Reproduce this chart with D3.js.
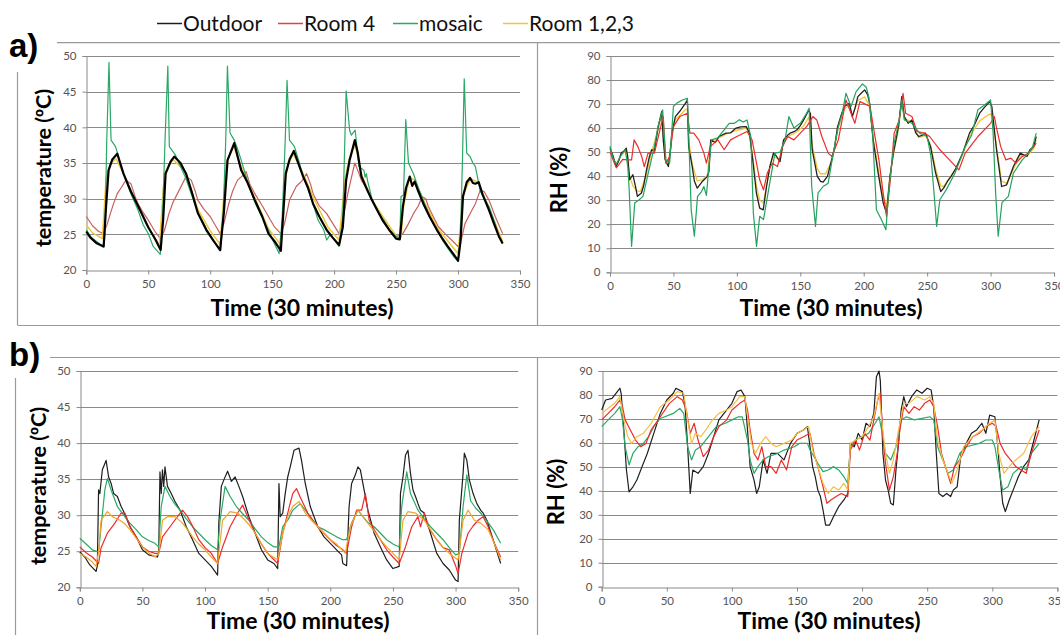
<!DOCTYPE html>
<html><head><meta charset="utf-8">
<script src="https://cdn.jsdelivr.net/npm/d3@7"></script>
<style>
html,body{margin:0;padding:0;background:#fff;}
svg{display:block;}
</style></head>
<body>
<svg id="c" width="1060" height="635"></svg>
<script>
// ---------- DATA (time in 30-min steps, value) ----------
const seriesNames = ["Outdoor", "Room 4", "mosaic", "Room 1,2,3"];
const xTicks = [0, 50, 100, 150, 200, 250, 300, 350];
const tempTicks = [20, 25, 30, 35, 40, 45, 50];
const rhTicks = [0, 10, 20, 30, 40, 50, 60, 70, 80, 90];

// a) temperature
const aTempOutdoor = [[0,25.4],[3,24.6],[8,23.8],[14,23.3],[16,29],[18,34],[21,35.5],[25,36.3],[30,33.5],[36,31],[42,28.9],[50,26],[56,24.2],[60,22.8],[62,27],[64,33.5],[68,35.2],[71,35.9],[76,35],[80.5,33.5],[85,31],[90,28],[97,25.6],[103,24],[108,22.8],[111,28],[114,35.4],[119.4,37.8],[122,36],[125,34],[130,32.3],[136,29.8],[142,27.5],[147,25.1],[152,24],[157,22.7],[159,28],[161,33.5],[164,35.5],[167.5,36.7],[171,35],[175,33.1],[179,31.5],[183,29.3],[188,27.5],[194,25.6],[199,24.5],[204,23.5],[207,26],[209.7,32.6],[212.5,35.4],[216.7,38.2],[219,36.5],[222,33.1],[226,31.5],[230.5,29.8],[235,28.3],[239,27],[245,25.5],[250,24.4],[253,24.3],[255.5,28.9],[258,31.5],[261,33.1],[263,31.8],[265,32.4],[268,31],[272,29.3],[277,27.5],[283,25.6],[287,24.5],[291.7,23.3],[296,22.3],[300,21.3],[302,24],[304,30.3],[307,32.3],[309.7,32.9],[312,32.2],[314,32.1],[316.7,32.3],[320,30.5],[325,28.4],[329,26.5],[333,24.7],[336,23.7]];
const aTempRoom4 = [[0,27.5],[5,26.2],[10,25.4],[14,25.1],[17,26.5],[19.4,27.9],[22,29.3],[25,30.7],[28,31.5],[32,32.6],[36,32.1],[39,30.5],[41.7,29.3],[45,28.3],[50,27],[55,25.5],[59.7,24.4],[63,25.5],[66.7,27.9],[70,29.5],[75,31.2],[80.5,33.1],[84.7,32.6],[88,31],[90,29.8],[95,28.5],[100,27.5],[105,26],[108,25.1],[111,26.5],[115,29.3],[118,31],[122,32.6],[126,33.2],[129,33.8],[132,32],[136,30.7],[142,29],[147,27.5],[152,26],[157,25.1],[160,26.5],[164,29.8],[169.4,31.7],[174,32.5],[177.8,33.5],[181,32],[183,30.7],[188,29],[194,27.9],[199,26.5],[204,25.1],[207,27],[211,30.7],[214,33],[216.7,35],[219,34],[222,32.6],[226,31.5],[230.5,29.8],[235,28.3],[240,27],[245,25.5],[250,24.7],[255.5,25.1],[260,26.5],[264,27.9],[268,29],[271,30.3],[274,30],[276,28.9],[280,27.5],[284,26.1],[290,25],[296,24],[300,23.3],[303,24.5],[305.6,26.5],[310,28],[314,29.3],[318,31.2],[321,31],[325,29.8],[330,27.5],[336,25.1]];
const aTempMosaic = [[0,25.6],[4,24.6],[9,23.9],[14,23.2],[15,24.8],[16.5,38],[18.3,49.1],[20,38.2],[23.6,37.3],[26,35.9],[30,33.5],[36,30.7],[41.7,28.4],[46,26.3],[50,25.1],[54,23.3],[59.7,22.2],[61.5,27],[63.5,38],[65.8,48.6],[67,37.3],[72,36.1],[76,34.5],[80,33],[85,30.5],[90,28],[97,25.4],[103,24],[108.3,22.7],[110.5,28],[112.5,38],[113.9,48.6],[116,39.2],[119.4,38.2],[122,37],[125,35.4],[130,32.5],[136,29.5],[142,27.3],[147,25.6],[151,24],[155.6,22.3],[158,27],[160.5,38],[162,46.6],[164,38.2],[168,37.3],[172,35],[175,33.1],[179,31.3],[183,29.3],[187,27],[191.7,25.6],[194,24.2],[197,25],[200,24.3],[204,23.3],[207,27.5],[209.7,45.1],[212.5,39.6],[213.9,38.9],[217,39.6],[220,34.5],[224,34],[225,33],[226,33.5],[227,32.5],[230.5,30],[235,28.3],[240,27],[245,25.5],[250,24.7],[253,24.5],[254,30.3],[256,30.5],[257.8,41.1],[260,35],[264,33.5],[268,31.5],[272,29.8],[277,27.5],[283,25.6],[288,24],[292,23],[296,22],[300,21.2],[302,25],[303.5,35],[305,46.8],[307,36.4],[309.7,35.9],[312,35],[314,34.5],[318,31],[325,28.9],[330,26.5],[333,24.7],[336,23.7]];
const aTempRoom123 = [[0,26.3],[5,25.2],[10,24.7],[13,24.4],[16,33],[20,35],[24,35.6],[30,33.5],[40,29.5],[50,26],[59,23.5],[63,33.5],[70,35.5],[80,33.8],[90,28.5],[100,25.5],[108,23.6],[113,35],[119,37.3],[125,34.5],[135,30.5],[147,25.8],[157,23.5],[161,34],[167,36.3],[175,33.5],[185,29.5],[195,26],[204,24.2],[209,33],[212,35.5],[217,37.6],[222,33.5],[230,30],[240,27.3],[250,24.8],[254,24.6],[256,29],[261,33],[265,32.6],[272,29.8],[283,26],[292,24],[300,22.3],[304,30.5],[310,32.8],[316,32.3],[325,28.7],[336,24]];

// a) relative humidity
const aRhOutdoor = [[0,51.6],[2,49],[4.8,44],[7,46.5],[8.8,49.6],[11,50.5],[12.8,51.6],[14,48],[15.5,38.5],[18,40.6],[20,36],[21.6,31.6],[24.8,33],[26.5,36],[28.8,42.6],[31,48],[32.8,51],[35,50.5],[38,60.6],[40.8,66.9],[42,55],[43.5,46.8],[46,44],[47.5,50],[48.8,57.9],[51.5,64.8],[55,67],[59.4,70.3],[61,71.7],[62,52.3],[64.8,44],[66.5,38],[68.8,35],[72.8,37.8],[76.8,39.9],[78,42],[79.4,55.1],[83,54],[86,56.5],[91.4,57.9],[95,58],[99.4,60],[103,60.5],[107.4,60.6],[110,57.9],[112.8,45.4],[115.4,33],[118,26.7],[120.8,26],[123.4,35.7],[126,44],[128.8,49.6],[131,48.5],[134,46],[136.8,55.1],[140,57],[142,57.9],[145,58.5],[147.4,59.3],[150,61],[152.7,63.4],[156.7,67.6],[158,66],[159.4,51],[163.4,39.9],[166,37.8],[168,37.5],[171.4,39.9],[175.4,48.2],[177,52],[179.4,60.6],[182,65],[184.7,69],[188.7,70.3],[191,64.8],[193,68],[195.4,73.1],[198,74.5],[200.7,75.9],[203,74],[204.7,70.3],[207.4,55.1],[211.4,41.3],[215.4,28.8],[218,24.6],[220.7,39.9],[223.4,49.6],[227.4,60.6],[230,73.1],[232,64.8],[235,62],[238,63.4],[241,58],[243.4,56.5],[246,57],[248.7,57.9],[252.7,52.3],[256.7,41.3],[260.7,33.6],[263,35],[266,37.8],[269,40],[272.7,43.3],[278,49.6],[283.4,57.9],[287,61],[291.4,66.2],[295,68.5],[299.4,71],[301,69],[304.7,51],[308.7,35.7],[312.7,36.4],[318,44],[323.4,49.6],[328.7,48.2],[331,51],[334,52.3],[336,56.5]];
const aRhRoom4 = [[0,50],[3,46],[5,43.5],[8,45.5],[10,47],[14,46.8],[17,46.8],[19,55.1],[22,52.3],[25,48.2],[27,44],[30,49.6],[35,49.6],[40,60.6],[42,64.8],[44,45.4],[47,48.2],[50,60.6],[55,64.8],[61,66.2],[63,57.9],[66,57.9],[70,55.1],[74,49.6],[76,45.4],[79,52.3],[85,55.1],[90,51],[95,55.1],[100,56.5],[108,58.6],[112,55.1],[115,46.8],[118,38.5],[121,34.3],[124,41.3],[128,45.4],[132,44],[136,52.3],[140,56.5],[145,55.1],[150,57.9],[155,60.6],[160,64.8],[163,63.4],[167,56.5],[172,49.6],[175,48.2],[180,55.1],[186,71.7],[190,66.2],[193,62],[197,71],[200,70.3],[205,69],[208,59.3],[212,46.8],[215,34.3],[218,23.3],[221,38.5],[224,57.9],[228,63.4],[231,74.5],[233,66.2],[238,64.8],[242,58.6],[248,57.9],[252,56.5],[256,53.7],[260,51],[265,48.2],[270,45.4],[275,42.6],[280,49.6],[290,56.5],[300,62],[303,64.8],[305,59.3],[308,52.3],[312,46.8],[316,47.5],[320,45.4],[325,48.2],[330,49.6],[336,53.7]];
const aRhMosaic = [[0,52.5],[2,48],[5,45],[8,48],[12,51],[14,44],[15,35.7],[17,10.8],[19.5,28.8],[23,30.2],[26,31.6],[30,41],[35,52.3],[38,61],[41.5,67.6],[44,46.8],[47,45.4],[50,69],[53,70.5],[57,71.7],[61,72.4],[62.5,49.6],[64,26],[66.5,15],[69,31.6],[72,33.5],[74,35.7],[76,32],[78,44],[80,55.1],[85,56],[90,59.3],[94,62],[98,62],[102,63.5],[105,62.5],[108,63.4],[111,56.5],[113,24.6],[115.5,10.8],[118,23.3],[121,21.9],[125,34.3],[130,49.6],[134,50],[138,55.1],[141,64.8],[145,60],[150,62],[155,66.2],[157,68.3],[159,35.7],[162,19.1],[164,33],[168,35.7],[172,37.1],[176,49.6],[180,60.6],[183,66],[186,74.5],[190,69],[194,75.2],[199,78.4],[202,77],[204,73],[207,57.9],[210,26],[214,21.9],[217.5,17.7],[220,35.7],[224,53.7],[228,63.4],[230,71.7],[232,63.4],[238,62],[244,57.9],[250,56.5],[253,48.2],[255,35.7],[257.5,19.1],[260,30.2],[265,34.3],[272,41.3],[280,52.3],[285,57],[290,67.6],[295,69.5],[300,71.7],[302,58],[304,33],[306,15],[309,29],[314,31.6],[318,41.3],[325,46.8],[330,49.6],[333,52],[336,57.9]];
const aRhRoom123 = [[0,50.5],[4.8,44.5],[8.8,49],[12.8,50.5],[15.5,40],[18,36],[21,34],[24,33.6],[28.8,41],[32.8,50],[38,59.5],[40.8,65],[43.5,47],[46,45],[48.8,57],[51.5,63.5],[59.4,67.6],[61,68],[62,55],[64.8,45],[68.8,38],[72.8,38.5],[76.8,40.5],[79.4,54],[86,56],[91.4,57.5],[99.4,59],[107.4,60],[110,57],[112.8,47],[115.4,36],[118,30],[120.8,28.8],[123.4,36],[126,44],[128.8,48.5],[134,46.5],[136.8,54.5],[142,57],[147.4,58.5],[152.7,61],[156.7,64.5],[159.4,53],[163.4,43],[166,41],[170,41],[175.4,47],[179.4,59],[184.7,68],[188.7,69.5],[191,65],[195.4,71.5],[200.7,73],[204.7,69],[207.4,56],[211.4,43],[215.4,31],[218,27.4],[220.7,40],[223.4,49],[227.4,59.5],[230,71],[232,64],[238,62.5],[243.4,56],[248.7,57],[252.7,53],[256.7,43],[260.7,36],[263,35.7],[266,38],[272.7,43],[278,49],[283.4,56.5],[291.4,63],[299.4,66],[301,65],[304.7,52],[308.7,38],[312.7,37],[318,43],[323.4,48.5],[328.7,48.5],[334,51.5],[336,55]];

// b) temperature
const bTempOutdoor = [[0,24.9],[4,24.2],[8,23.1],[13,22.2],[14,23],[15,33.5],[16,33],[18,36.3],[21,37.6],[23,35.3],[25,34.4],[27,33],[30,32.6],[33,31.2],[35,30.5],[40,28.4],[45,27],[50,25.2],[55,24.5],[62,24.2],[63,25],[64,36],[65,33],[66,36.3],[67,34],[68,36.7],[70,34],[73,33],[76,31.9],[80,30.7],[85,28.4],[90,26.6],[95,24.7],[100,23.8],[105,22.9],[110,21.7],[111,29],[113,34],[115,34.9],[118,36.1],[121,34.7],[124,35.3],[127,34],[130,32.6],[135,29.8],[140,27.5],[145,25.2],[150,23.8],[155,23.3],[158,22.6],[159,34.4],[160,29.8],[162,30.3],[164,33],[166,35.3],[168,36.7],[171,39],[175,39.3],[177,37.6],[180,34.4],[184,31.2],[190,28.4],[195,27],[200,26.1],[205,25.2],[209,24.5],[210,23.3],[213,23],[215,31.2],[217,34.4],[220,35.6],[222,36.7],[224,36.3],[226,34.4],[230,30.7],[235,27.5],[240,25.6],[245,23.8],[250,22.6],[255,22.9],[256,33],[258,35.3],[260,38.3],[262,39],[264,35.8],[266,33.5],[268,32.6],[270,31.6],[272,30.7],[275,30.3],[280,27.5],[285,24.7],[290,23.3],[295,22.4],[300,21],[302,20.8],[303,29.3],[306,35.8],[307,38.6],[309,37.6],[311,34.9],[314,33],[317,31.6],[320,30.7],[322,30.3],[325,29.3],[330,26.6],[336,23.3]];
const bTempRoom4 = [[0,25.6],[5,24.8],[10,24.2],[15,23.3],[17,25.5],[22,27.5],[28,28.9],[33,30.3],[36,30.3],[40,28.5],[45,27],[50,25.6],[55,25],[60,24.7],[63,24.7],[66,27],[72,28.4],[78,29.8],[82,30.7],[86,29.8],[90,28.5],[95,26.6],[100,25.5],[105,24.7],[110,23.3],[114,25.6],[120,28.4],[126,30.3],[130,31.4],[133,30.2],[140,27.5],[145,26],[150,24.7],[158,23.3],[162,27.5],[166,30.3],[170,33],[173,33.7],[176,32.5],[182,30.3],[190,28.4],[195,27.5],[200,26.6],[205,25.8],[210,25.2],[213,24.7],[217,28.4],[221,30.7],[225,30.7],[228,33],[231,29.3],[235,28],[240,26.6],[245,25.2],[250,24.2],[255,23.3],[260,25.6],[265,28.4],[270,29.8],[272,28.4],[275,30.3],[278,28.4],[285,26.6],[290,25.5],[295,25.2],[300,23],[302,21.9],[305,24.7],[310,27.5],[314,28.5],[318,29.3],[322,29.8],[326,28.4],[330,26.5],[336,24.2]];
const bTempMosaic = [[0,26.8],[5,26],[10,25.2],[15,24.9],[17,28.4],[20,33.5],[22,35.1],[25,33.5],[30,31.2],[35,30],[40,28.9],[45,28],[50,27],[55,26.5],[60,26.1],[63,25.6],[65,31.2],[68,34],[72,32.6],[76,31.5],[80,30.7],[85,29.5],[90,28.4],[95,27.5],[100,26.6],[105,25.8],[110,25.2],[112,29.3],[116,34],[120,32.6],[125,31.2],[130,30.2],[135,29.3],[140,28.1],[145,27],[150,26.2],[155,25.6],[159,25.6],[162,28.4],[166,29.3],[170,30.7],[176,31.6],[180,30.7],[185,29.5],[190,28.4],[195,28],[200,27.5],[205,27],[210,26.6],[213,26.6],[217,28.9],[222,30.7],[226,29.8],[230,29],[235,28.4],[240,27.5],[245,26.6],[250,26],[255,25.6],[257,31.2],[261,36],[264,33],[270,30.7],[275,29.5],[280,28.4],[285,27.5],[290,26.6],[295,25.5],[300,24.5],[303,24.7],[306,31.2],[309,35.6],[312,32],[316,31],[320,30.3],[325,29.2],[330,28],[336,26.1]];
const bTempRoom123 = [[0,24.7],[5,24.2],[10,23.5],[13,22.9],[15,25],[17,29.3],[22,30.5],[26,29.8],[32,29.3],[36,28.8],[40,28],[45,26.8],[50,25.6],[55,24.8],[60,24.2],[63,24.7],[66,29.3],[70,29.8],[76,29.8],[82,28.9],[86,28],[90,27],[95,26],[100,25.2],[105,24.2],[110,23.3],[114,29.3],[120,30.5],[126,30.3],[132,29.3],[136,28.5],[140,27.5],[145,26],[150,24.7],[158,23.8],[162,27.5],[166,29.8],[170,31.2],[175,31.9],[180,30.3],[185,29.3],[190,28.4],[195,27.5],[200,26.6],[205,26],[212,24.7],[216,28.4],[222,30.7],[228,29.3],[235,27.8],[240,26.6],[245,25.6],[250,24.7],[255,23.8],[258,29.3],[262,30.5],[268,30.3],[275,29.3],[280,28],[285,26.6],[290,25.5],[295,24.7],[302,23.8],[306,29.3],[310,30.7],[315,29.3],[320,28.9],[326,28],[330,26.5],[336,23.8]];

// b) relative humidity
const bRhOutdoor = [[0,73.7],[3,77.9],[8,78.6],[12,81.4],[14,82.8],[15,80.5],[17,65.4],[19,48.7],[21,39.6],[24,41.7],[27,44.5],[31,50.1],[35,55.6],[40,64],[45,72.3],[50,77.9],[55,80.7],[57,82.8],[62,81.4],[64,76],[66,58.4],[67,48.7],[68,38.9],[70,48.7],[74,47.3],[78,50.1],[82,55.6],[86,62.6],[90,69.6],[95,73],[100,76.5],[104,81.4],[107,82.1],[110,79.3],[112,65.4],[114,50.1],[117,44.5],[119,38.9],[121,41.7],[124,52.9],[127,47.3],[130,55.6],[135,55.6],[140,52.9],[145,59.8],[150,64],[155,65.4],[158,66.8],[160,58.4],[162,50.1],[164,45.9],[166,40.3],[168,37.6],[170,32],[172,25.7],[175,25.7],[178,29.2],[182,33.4],[186,36.2],[189,38.9],[191,59.8],[194,58.4],[197,64],[200,61.2],[203,68.2],[206,66.8],[209,72.3],[211,87.6],[213,90],[214,86],[216,55.6],[218,44.5],[220,40.3],[222,34.8],[224,34.1],[226,48.7],[228,59.8],[230,73.7],[232,79.3],[234,75.1],[238,79.3],[242,82.1],[246,80.7],[250,82.8],[253,82.1],[255,75.1],[257,55.6],[259,38.9],[262,37.6],[265,38.9],[268,37.6],[270,40.3],[273,41.7],[276,55.6],[280,59.8],[284,64],[288,65.4],[292,68.2],[295,64],[298,71.6],[302,70.9],[304,59.8],[306,45.9],[308,34.8],[310,31.3],[313,36.2],[316,40.3],[320,45.9],[324,50.1],[328,52.9],[332,61.2],[336,69.6]];
const bRhRoom4 = [[0,69.6],[5,72.3],[10,75.1],[14,77.9],[16,75.1],[18,69.6],[22,65.4],[26,61.2],[30,58.4],[34,59.8],[38,65.4],[45,70.9],[52,76.5],[58,79.3],[62,77.9],[65,73.7],[68,64],[71,68.2],[74,61.2],[78,54.3],[82,57],[86,62.6],[90,66.8],[96,69.6],[100,73.7],[106,76.5],[110,77.9],[112,73.7],[114,65.4],[117,55.6],[120,52.9],[123,58.4],[126,50.1],[130,50.1],[134,47.3],[138,52.9],[142,48.7],[146,58.4],[150,61.2],[155,62.6],[160,64],[163,55.6],[166,50.1],[170,41.7],[173,34.8],[176,36.2],[180,37.6],[184,38.9],[189,37.6],[191,57],[195,61.2],[198,57],[202,64],[206,61.2],[209,69.6],[212,77.9],[214,80.7],[216,62.6],[218,51.5],[221,40.3],[224,45.9],[227,55.6],[229,65.4],[232,75.1],[236,72.3],[240,75.1],[244,73.7],[248,76.5],[252,77.9],[255,75.1],[258,66.8],[261,55.6],[264,50.1],[268,43.1],[271,50.1],[275,52.9],[280,58.4],[285,62.6],[290,64],[295,66.8],[300,68.2],[303,66.8],[306,59.8],[310,55.6],[314,52.9],[318,50.1],[322,48.7],[326,47.3],[330,55.6],[336,65.4]];
const bRhMosaic = [[0,66.8],[5,69.6],[10,72.3],[14,75.1],[16,69.6],[18,58.4],[21,50.8],[24,55.6],[28,58.4],[32,59.8],[36,62.6],[40,66.8],[45,70.2],[55,72.3],[60,74.4],[63,72.3],[66,58.4],[69,52.9],[72,57],[76,58.4],[82,62.6],[88,66.8],[95,68.2],[100,69.6],[105,70.9],[108,70.9],[112,61.2],[114,52.9],[117,47.3],[120,50.1],[124,52.9],[128,54.3],[135,55.6],[140,57],[148,58.4],[152,59.8],[158,59.8],[160,57],[163,54.3],[166,51.5],[170,48],[174,48.7],[178,50.1],[182,48.7],[186,45.9],[189,43.1],[191,58.4],[195,61.2],[200,62.6],[205,64],[210,68.2],[213,70.9],[215,65.4],[218,55.6],[222,52.9],[226,58.4],[230,69.6],[234,70.9],[240,69.6],[246,70.2],[252,70.9],[255,69.6],[258,58.4],[262,52.9],[266,47.3],[270,48.7],[275,55.6],[280,58.4],[290,59.8],[295,61.2],[300,61.2],[302,58.4],[305,48.7],[308,40.3],[312,41.7],[316,47.3],[322,50.1],[326,48.7],[330,55.6],[336,59.8]];
const bRhRoom123 = [[0,72.3],[5,74.5],[10,76.5],[14,79.3],[17,69.6],[20,62.6],[23,59.8],[27,62.6],[32,64],[38,68.2],[45,75.1],[52,77.9],[58,81.4],[63,80.7],[66,69.6],[69,59.8],[72,64],[76,62.6],[80,65.4],[85,69.6],[90,72.3],[96,73.7],[100,75.1],[106,79.3],[110,79.3],[112,70.9],[115,59.8],[118,55.6],[122,59.8],[126,62.6],[130,59.8],[134,58.4],[140,59.8],[146,61.2],[150,64],[155,65.4],[159,66.8],[162,57],[166,50.1],[170,43.1],[174,38.9],[178,41.7],[182,40.3],[186,43.1],[189,40.3],[191,59.8],[195,61.2],[200,62.6],[205,66.8],[209,70.9],[213,80.7],[215,69.6],[218,55.6],[221,47.3],[224,52.9],[228,65.4],[232,76.5],[236,76.5],[242,79.3],[248,77.9],[252,79.3],[255,76.5],[258,61.2],[262,52.9],[266,47.3],[269,43.1],[273,48.7],[278,58.4],[285,62.6],[292,65.4],[298,68.2],[302,69.6],[305,55.6],[309,47.3],[313,50.1],[318,52.9],[324,55.6],[330,62.6],[336,66.8]];

// ---------- DRAWING ----------
const svg = d3.select("#c");
const FONT = "Lato, 'Open Sans', sans-serif";
const GRID = "#8a8a8a";
const FRAME = "#9a9a9a";

// frame lines
const frameLines = [
  [57, 42.7, 1060, 42.7], [17.5, 72, 17.5, 325], [17.5, 325.5, 1060, 325.5],
  [537.5, 42.7, 537.5, 325.5], [50, 357.5, 1060, 357.5], [15.5, 378, 15.5, 635],
  [537.5, 357.5, 537.5, 635]
];
svg.selectAll("line.frame").data(frameLines).join("line").attr("class","frame")
  .attr("x1",d=>d[0]).attr("y1",d=>d[1]).attr("x2",d=>d[2]).attr("y2",d=>d[3])
  .attr("stroke", FRAME).attr("stroke-width", 1.2);

// panel letters
svg.append("text").attr("x", 9).attr("y", 57).text("a)")
  .attr("font-family","'Liberation Sans', Arial, sans-serif").attr("font-weight","bold").attr("font-size",33).attr("fill","#000");
svg.append("text").attr("x", 9).attr("y", 366).text("b)")
  .attr("font-family","'Liberation Sans', Arial, sans-serif").attr("font-weight","bold").attr("font-size",33).attr("fill","#000");

// legend
const legendColors = ["#1e1e1e", "#e0404a", "#2aa866", "#f0c63a"];
const legendX = [157, 278, 393, 503];
seriesNames.forEach((n, i) => {
  svg.append("line").attr("x1", legendX[i]).attr("x2", legendX[i] + 25).attr("y1", 23.5).attr("y2", 23.5)
    .attr("stroke", legendColors[i]).attr("stroke-width", 1.5);
  svg.append("text").attr("x", legendX[i] + 26).attr("y", 31).text(n)
    .attr("font-family", FONT).attr("font-size", 21).attr("fill", "#111");
});

function panel(cfg) {
  const x = d3.scaleLinear().domain([0, 350]).range([cfg.x0, cfg.x1]);
  const y = d3.scaleLinear().domain([cfg.yTicks[0], cfg.yTicks[cfg.yTicks.length - 1]]).range([cfg.y0, cfg.y1]);
  const g = svg.append("g");
  g.selectAll("line.grid").data(cfg.yTicks.slice(1)).join("line")
    .attr("x1", cfg.x0).attr("x2", cfg.x1)
    .attr("y1", d => Math.round(y(d)) + 0.5).attr("y2", d => Math.round(y(d)) + 0.5)
    .attr("stroke", GRID).attr("stroke-width", 1);
  const ya = g.append("g").attr("transform", `translate(${Math.round(cfg.x0) + 0.5},0)`)
    .call(d3.axisLeft(y).tickValues(cfg.yTicks).tickSize(4).tickPadding(6).tickFormat(d3.format("d")));
  const xa = g.append("g").attr("transform", `translate(0,${Math.round(cfg.y0) + 0.5})`)
    .call(d3.axisBottom(x).tickValues(xTicks).tickSize(4).tickPadding(5).tickFormat(d3.format("d")));
  [ya, xa].forEach(a => {
    a.select(".domain").attr("stroke", GRID);
    a.selectAll(".tick line").attr("stroke", GRID);
    a.selectAll(".tick text").attr("fill", "#555").attr("font-family", FONT).attr("font-size", 11.5);
  });
  const line = d3.line().x(d => x(d[0])).y(d => y(d[1]));
  cfg.series.forEach(s => {
    g.append("path").datum(s.data).attr("d", line).attr("fill", "none")
      .attr("stroke", s.color).attr("stroke-width", s.w || 1.2).attr("stroke-linejoin", "round");
  });
  g.append("text").attr("x", cfg.xtX).attr("y", cfg.xtY).attr("text-anchor", "middle")
    .text("Time (30 minutes)").attr("font-family", FONT).attr("font-weight", "bold")
    .attr("font-size", 23).attr("fill", "#000");
  const yt = g.append("text").attr("transform", `translate(${cfg.ytX},${cfg.ytY}) rotate(-90)`)
    .attr("text-anchor", "middle").attr("font-family", FONT)
    .attr("font-weight", "bold").attr("font-size", cfg.ytSize).attr("fill", "#000");
  cfg.yTitle.forEach(part => {
    const t = yt.append("tspan").text(part.t);
    if (part.f) t.attr("font-family", part.f);
  });
}

const tempTitle = [{t: "temperature ("}, {t: "º", f: "'Liberation Sans', Arial, sans-serif"}, {t: "C)"}];
const rhTitle = [{t: "RH (%)"}];

panel({x0: 86.3, x1: 520, y0: 270, y1: 56, yTicks: tempTicks, yTitle: tempTitle, ytSize: 21.5,
  xtX: 302, xtY: 316, ytX: 51, ytY: 168,
  series: [
    {data: aTempRoom4, color: "#c8605e"},
    {data: aTempRoom123, color: "#f0c63a", w: 1.5},
    {data: aTempMosaic, color: "#2aa866"},
    {data: aTempOutdoor, color: "#000", w: 2.2}
  ]});
panel({x0: 610, x1: 1054, y0: 272.3, y1: 56, yTicks: rhTicks, yTitle: rhTitle, ytSize: 22,
  xtX: 831, xtY: 316, ytX: 567, ytY: 180,
  series: [
    {data: aRhRoom123, color: "#f0c63a", w: 1.3},
    {data: aRhOutdoor, color: "#222", w: 1.3},
    {data: aRhRoom4, color: "#ee2b2b"},
    {data: aRhMosaic, color: "#22a35f"}
  ]});
panel({x0: 79.8, x1: 518.2, y0: 587.3, y1: 371, yTicks: tempTicks, yTitle: tempTitle, ytSize: 21.5,
  xtX: 298, xtY: 629, ytX: 46, ytY: 486,
  series: [
    {data: bTempOutdoor, color: "#1e1e1e"},
    {data: bTempMosaic, color: "#2aa866"},
    {data: bTempRoom4, color: "#ee2b2b"},
    {data: bTempRoom123, color: "#f2a52a"}
  ]});
panel({x0: 601.7, x1: 1057.4, y0: 586.7, y1: 371, yTicks: rhTicks, yTitle: rhTitle, ytSize: 22,
  xtX: 829, xtY: 629, ytX: 564, ytY: 492,
  series: [
    {data: bRhOutdoor, color: "#1e1e1e"},
    {data: bRhMosaic, color: "#2aa866"},
    {data: bRhRoom4, color: "#ee2b2b"},
    {data: bRhRoom123, color: "#f5bf45"}
  ]});
</script>
</body></html>
